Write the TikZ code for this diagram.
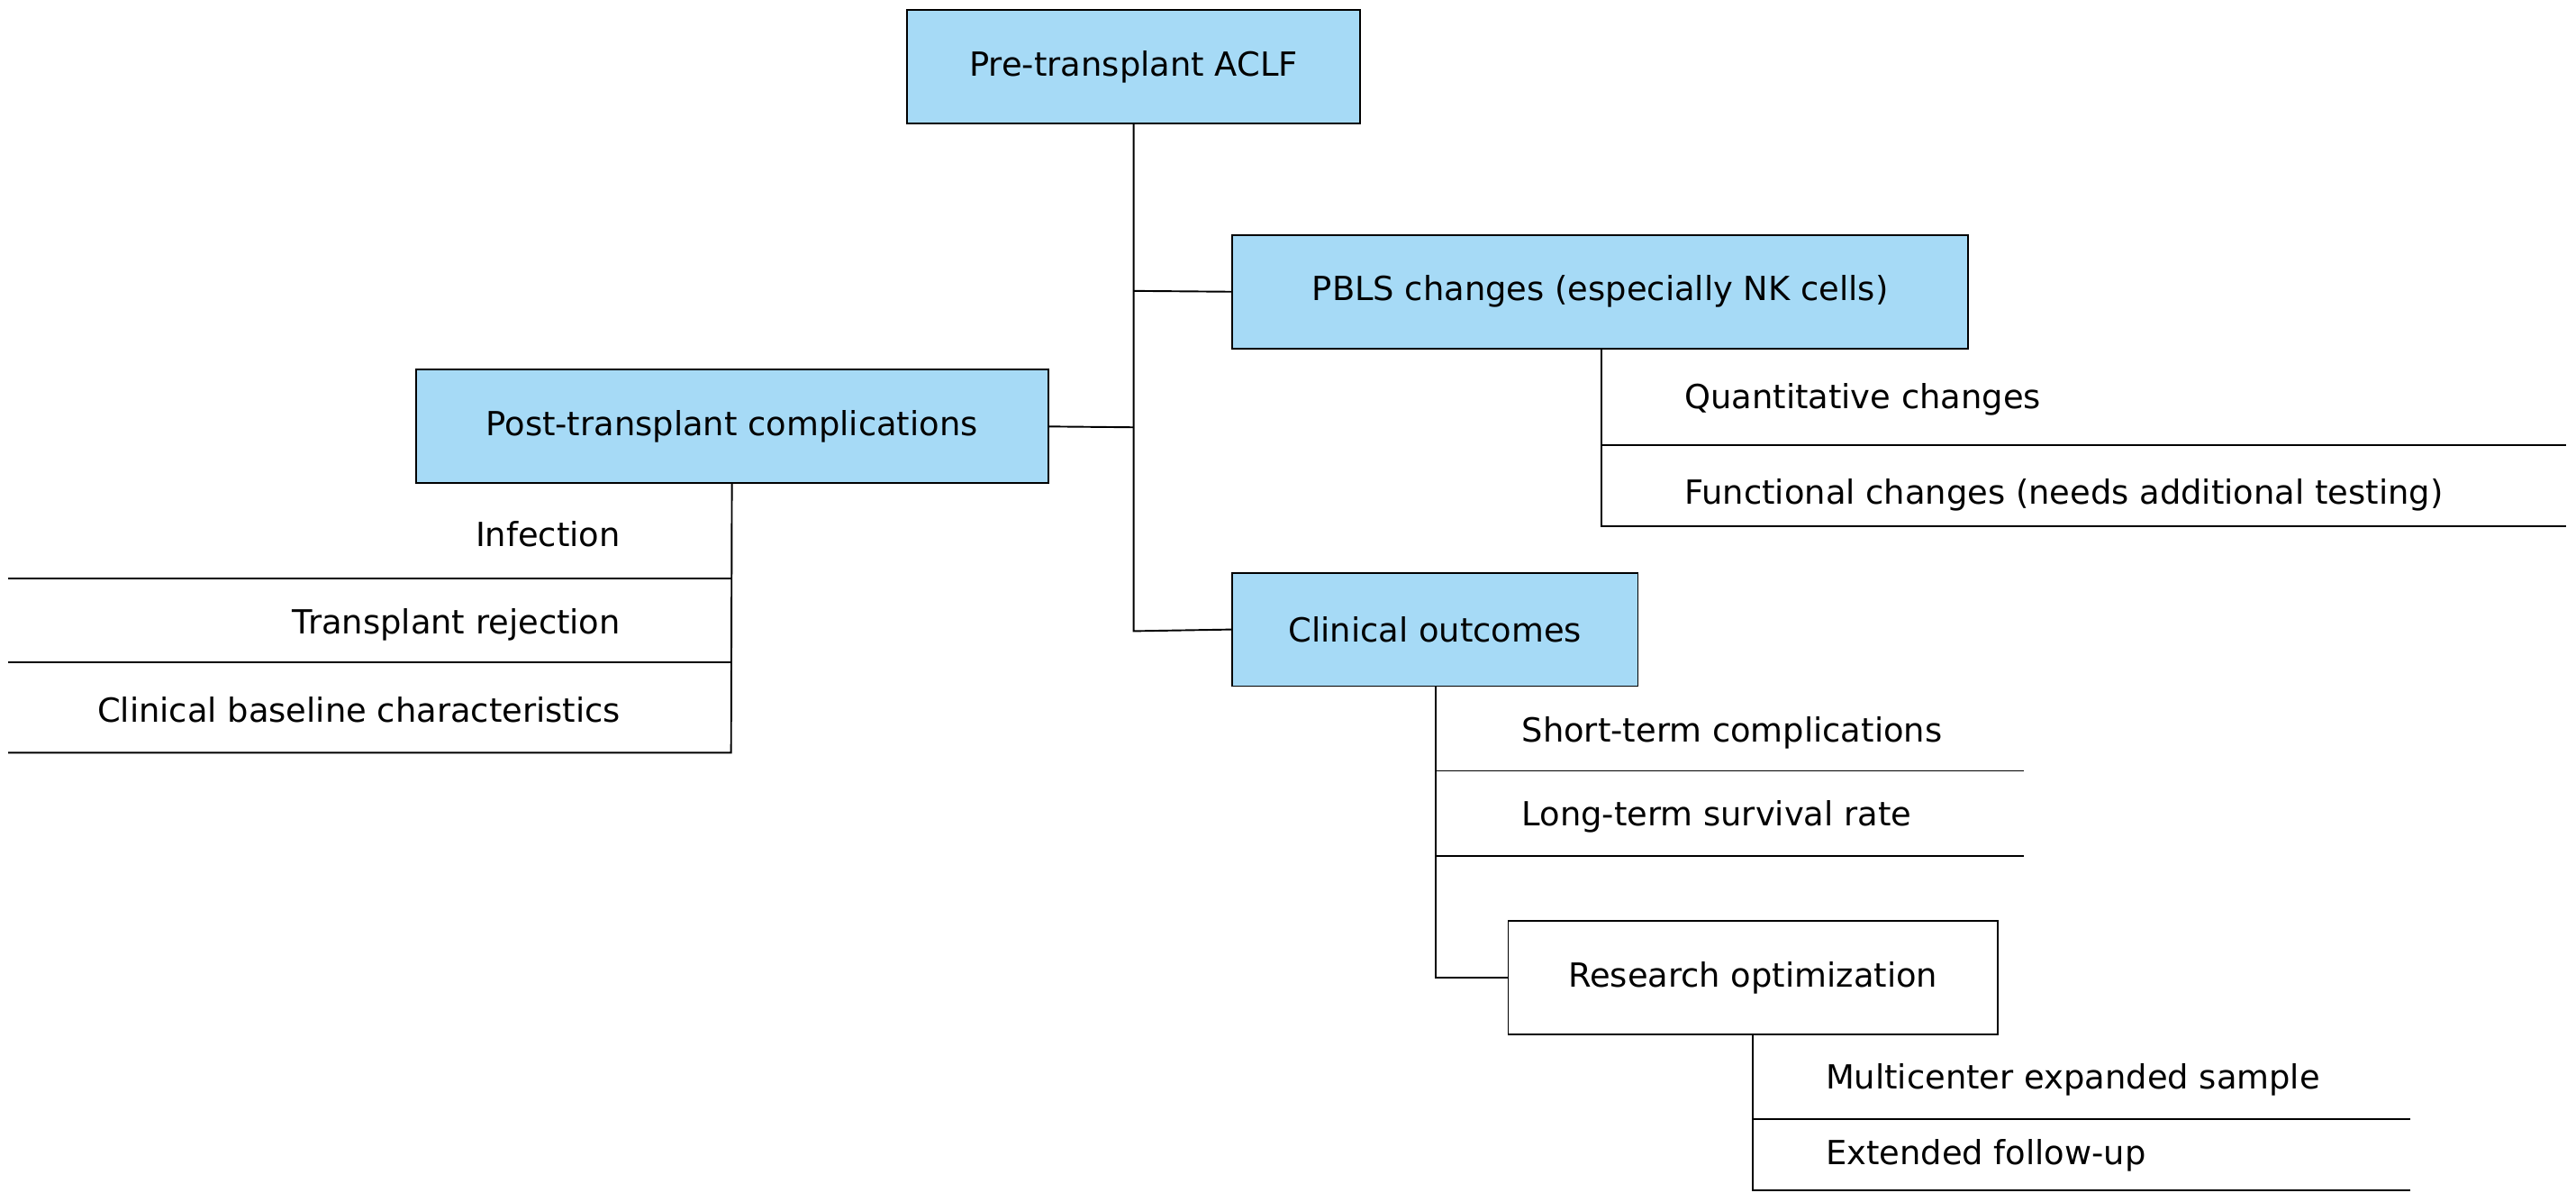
\documentclass[tikz,border=0pt]{standalone}
\usepackage{fontspec}
\setmainfont{DejaVu Sans}
\begin{document}
\begin{tikzpicture}[x=0.02cm,y=-0.02cm,
  box/.style={draw=black,line width=0.6pt,fill=#1,minimum height=1.38cm,inner sep=0pt,font=\fontsize{11.5}{13}\selectfont},
  box/.default={cyan!25!blue!8!white},
  txt/.style={inner sep=0pt,font=\fontsize{11.5}{13}\selectfont},
  ln/.style={line width=0.6pt}]
\useasboundingbox (0,0) rectangle (1568,731);
\definecolor{bx}{RGB}{166,218,246}
\node[box=bx,minimum width=5.52cm] (pre) at (690,40.5) {Pre-transplant ACLF};
\node[box=bx,minimum width=8.96cm] (pbls) at (974,177.5) {PBLS changes (especially NK cells)};
\node[box=bx,minimum width=7.7cm] (post) at (445.5,259.5) {Post-transplant complications};
\node[box=bx,minimum width=4.94cm] (clin) at (873.5,383) {Clinical outcomes};
\node[box=white,minimum width=5.96cm] (res) at (1067,595) {Research optimization};
\coordinate (t1) at (690,177); \coordinate (t2) at (690,260); \coordinate (t3) at (690,384);
\draw[ln] (pre.south) -- (t3) -- (clin.west);
\draw[ln] (t1) -- (pbls.west);
\draw[ln] (t2) -- (post.east);
% PBLS sub
\coordinate (p1) at (975,271); \coordinate (p2) at (975,320);
\coordinate (p1e) at (1562,271); \coordinate (p2e) at (1562,320);
\draw[ln] (pbls.south -| p1) -- (p2) -- (p2e);
\draw[ln] (p1) -- (p1e);
\node[txt,anchor=west] (q) at (1025,243) {Quantitative changes};
\node[txt,anchor=west] (f) at (1025,301) {Functional changes (needs additional testing)};
% Post sub
\coordinate (s1) at (445,352); \coordinate (s2) at (445,403); \coordinate (s3) at (445,458);
\coordinate (s1e) at (5,352); \coordinate (s2e) at (5,403); \coordinate (s3e) at (5,458);
\draw[ln] (post.south) -- (s3) -- (s3e);
\draw[ln] (s1) -- (s1e); \draw[ln] (s2) -- (s2e);
\node[txt,anchor=east] (inf) at (378,325) {Infection};
\node[txt,anchor=east] (rej) at (378,380) {Transplant rejection};
\node[txt,anchor=east] (cbc) at (378,432) {Clinical baseline characteristics};
% Clinical sub
\coordinate (c1) at (874,469); \coordinate (c2) at (874,521); \coordinate (c3) at (874,595);
\coordinate (c1e) at (1232,469); \coordinate (c2e) at (1232,521);
\draw[ln] (clin.south -| c1) -- (c3) -- (res.west);
\draw[ln] (c1) -- (c1e); \draw[ln] (c2) -- (c2e);
\node[txt,anchor=west] (st) at (926,446) {Short-term complications};
\node[txt,anchor=west] (lt) at (926,497) {Long-term survival rate};
% Research sub
\coordinate (r1) at (1067,681); \coordinate (r2) at (1067,724);
\coordinate (r1e) at (1467,681); \coordinate (r2e) at (1467,724);
\draw[ln] (res.south) -- (r2) -- (r2e);
\draw[ln] (r1) -- (r1e);
\node[txt,anchor=west] (mc) at (1111,657) {Multicenter expanded sample};
\node[txt,anchor=west] (ef) at (1111,703) {Extended follow-up};
\end{tikzpicture}
\end{document}
